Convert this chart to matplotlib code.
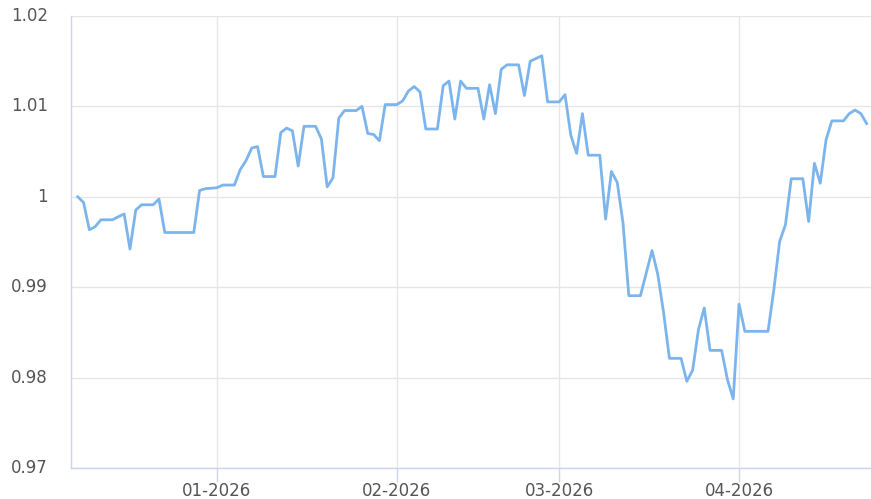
import matplotlib
matplotlib.use("Agg")
import matplotlib.pyplot as plt
import matplotlib.dates as mdates
from matplotlib.ticker import FuncFormatter, MultipleLocator
import pandas as pd

START_DATE = "2025-12-08"

DEC_VALUES = [
    1.0000, 0.99937, 0.99635, 0.9967, 0.99746, 0.99746, 0.99746, 0.9978,
    0.9981, 0.99422, 0.99854, 0.99912, 0.99912, 0.99912, 0.99975, 0.99605,
    0.99605, 0.99605, 0.99605, 0.99605, 0.99605, 1.0007, 1.0009, 1.00095,
]
JAN_VALUES = [
    1.0010, 1.0013, 1.0013, 1.0013, 1.0030, 1.0040, 1.0054, 1.00556,
    1.00224, 1.00224, 1.00224, 1.0071, 1.0076, 1.0073, 1.0034, 1.0078,
    1.0078, 1.0078, 1.0064, 1.0011, 1.0021, 1.0087, 1.00954, 1.00954,
    1.00954, 1.0100, 1.0070, 1.0069, 1.0062, 1.0102, 1.0102,
]
FEB_VALUES = [
    1.0102, 1.0106, 1.0117, 1.0122, 1.0116, 1.0075, 1.0075, 1.0075,
    1.0123, 1.0128, 1.0086, 1.0128, 1.0120, 1.0120, 1.0120, 1.0086,
    1.0124, 1.0092, 1.0141, 1.0146, 1.0146, 1.0146, 1.0112, 1.0150,
    1.0153, 1.0156, 1.0105, 1.0105,
]
MAR_VALUES = [
    1.0105, 1.0113, 1.0068, 1.0048, 1.0092, 1.0046, 1.0046, 1.0046,
    0.99753, 1.0028, 1.0016, 0.99709, 0.98906, 0.98906, 0.98906, 0.99157,
    0.99406, 0.99138, 0.98715, 0.98213, 0.98213, 0.98213, 0.97959, 0.98081,
    0.98530, 0.98770, 0.98301, 0.98301, 0.98301, 0.97978, 0.97764,
]
APR_VALUES = [
    0.98812, 0.98512, 0.98512, 0.98512, 0.98512, 0.98512, 0.98972, 0.99506,
    0.99691, 1.0020, 1.0020, 1.0020, 0.99727, 1.0037, 1.0015, 1.0063,
    1.0084, 1.0084, 1.0084, 1.0092, 1.0096, 1.0092, 1.0081,
]

LINE_COLOR = "#7cb5ec"
AXIS_COLOR = "#ccd6eb"
GRID_COLOR = "#e6e6e6"
LABEL_COLOR = "#555555"


def main() -> None:
    values = DEC_VALUES + JAN_VALUES + FEB_VALUES + MAR_VALUES + APR_VALUES
    dates = pd.date_range(START_DATE, periods=len(values), freq="D")

    fig = plt.figure(figsize=(8.71, 4.99), dpi=100)
    ax = fig.add_axes([71 / 871, 1 - 468 / 499, 800 / 871, (468 - 16) / 499])

    ax.plot(dates, values, color=LINE_COLOR, linewidth=2.0, zorder=3)

    ax.set_xlim(pd.Timestamp("2025-12-06 20:00"), pd.Timestamp("2026-04-23 18:00"))
    ax.set_ylim(0.97, 1.02)

    ax.yaxis.set_major_locator(MultipleLocator(0.01))
    ax.yaxis.set_major_formatter(FuncFormatter(lambda v, _: f"{v:.2f}".rstrip("0").rstrip(".")))
    ax.xaxis.set_major_locator(mdates.MonthLocator())
    ax.xaxis.set_major_formatter(mdates.DateFormatter("%m-%Y"))

    ax.grid(True, axis="y", color=GRID_COLOR, linewidth=1.0, zorder=0)
    ax.grid(True, axis="x", color=GRID_COLOR, linewidth=1.0, zorder=0)

    for side in ("top", "right"):
        ax.spines[side].set_visible(False)
    for side in ("left", "bottom"):
        ax.spines[side].set_color(AXIS_COLOR)
        ax.spines[side].set_linewidth(1.0)

    ax.tick_params(axis="y", length=0, pad=16.5, labelsize=12, labelcolor=LABEL_COLOR)
    ax.tick_params(axis="x", length=10, width=1.0, color=AXIS_COLOR, pad=0,
                   labelsize=12, labelcolor=LABEL_COLOR)
    for label in ax.get_yticklabels():
        label.set_verticalalignment("center")

    fig.savefig("out.png", dpi=100)
    plt.close(fig)


if __name__ == "__main__":
    main()
